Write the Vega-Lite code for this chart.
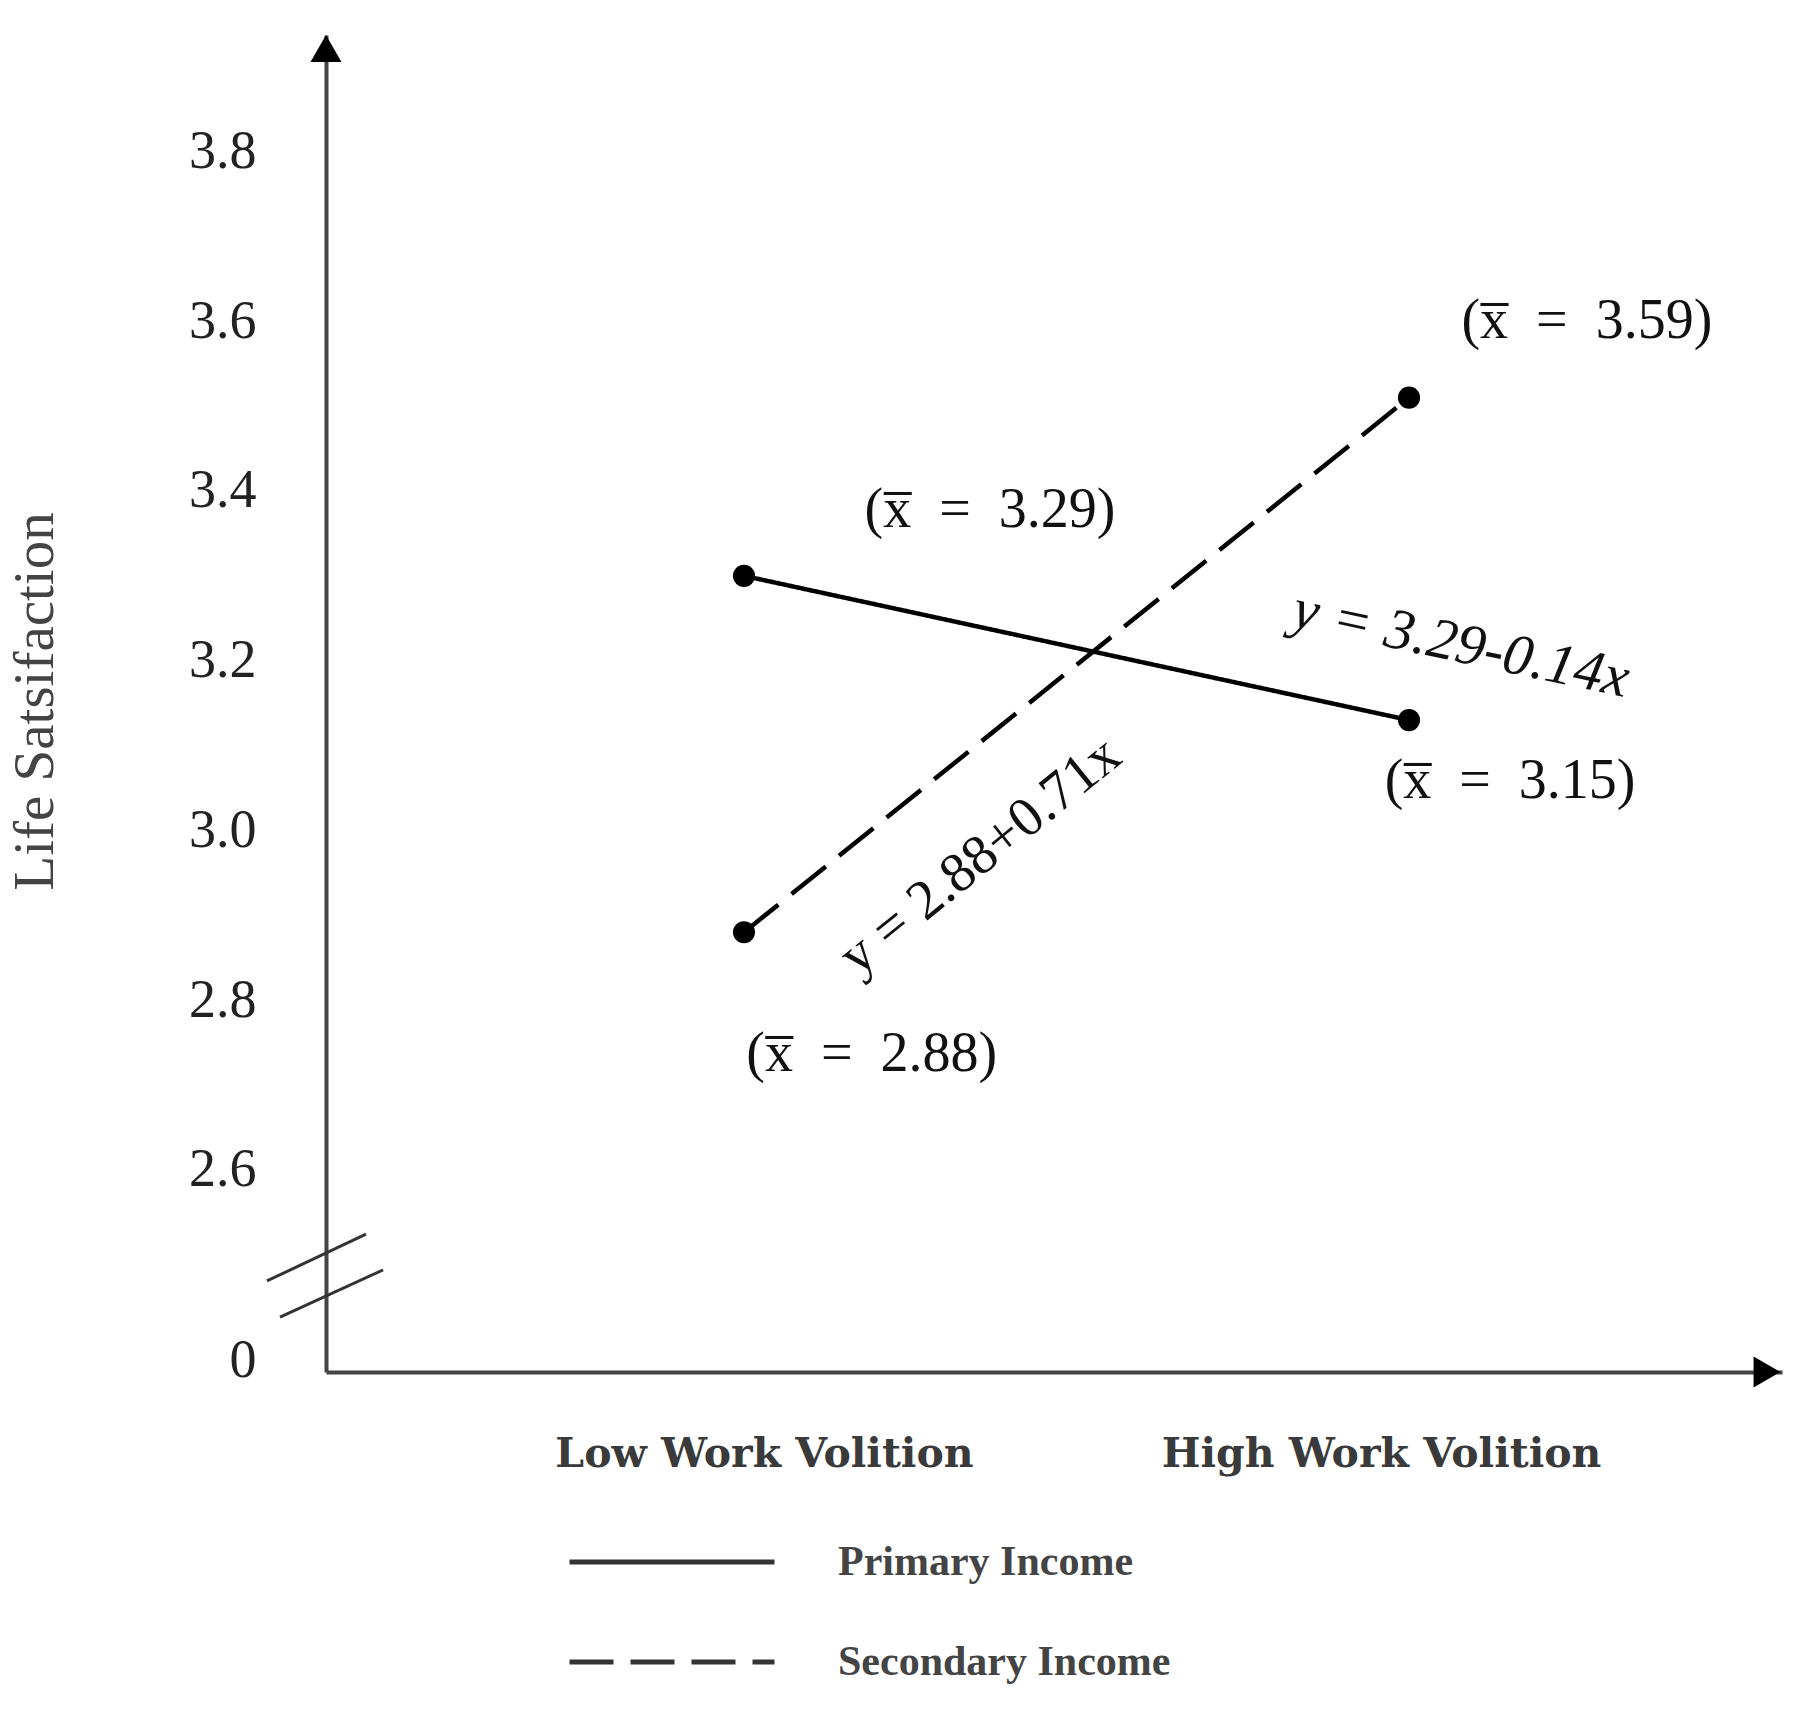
{
  "$schema": "https://vega.github.io/schema/vega-lite/v6.json",
  "autosize": {"type": "none"},
  "padding": {"left": 326, "top": 35, "right": 38, "bottom": 346},
  "width": 1456,
  "height": 1337,
  "background": "white",
  "config": {"view": {"stroke": null}},
  "datasets": {
    "lines": [
      {"group": "Primary Income", "x": -1, "y": 3.30},
      {"group": "Primary Income", "x": 1, "y": 3.13},
      {"group": "Secondary Income", "x": -1, "y": 2.88},
      {"group": "Secondary Income", "x": 1, "y": 3.51}
    ],
    "means": [
      {"x": -0.260, "y": 3.378, "label": "(x̅\u2002=\u20023.29)"},
      {"x": 1.535, "y": 3.600, "label": "(x̅\u2002=\u20023.59)"},
      {"x": 1.304, "y": 3.058, "label": "(x̅\u2002=\u20023.15)"},
      {"x": -0.616, "y": 2.7365, "label": "(x̅\u2002=\u20022.88)"}
    ],
    "breaks": [
      {"x": -2.4346, "y": 2.4690, "x2": -2.1368, "y2": 2.5243},
      {"x": -2.3955, "y": 2.4265, "x2": -2.0857, "y2": 2.4819}
    ],
    "arrows": [
      {"axis": "y", "x": -2.2571, "y": 3.9215},
      {"axis": "x", "x": 2.0767, "y": 2.3617}
    ]
  },
  "encoding": {
    "x": {
      "field": "x",
      "type": "quantitative",
      "scale": {"domain": [-2.2571, 2.1218], "nice": false, "zero": false},
      "axis": {
        "title": null,
        "values": [-0.94, 0.916],
        "labelExpr": "datum.value < 0 ? 'Low Work Volition' : 'High Work Volition'",
        "ticks": false,
        "tickSize": 0,
        "grid": false,
        "labelFont": "DejaVu Serif",
        "labelFontWeight": "bold",
        "labelFontSize": 41,
        "labelColor": "#3a3a3a",
        "labelPadding": 62,
        "labelLimit": 0,
        "labelFlush": false,
        "labelOverlap": false,
        "domainColor": "#444",
        "domainWidth": 4
      }
    },
    "y": {
      "field": "y",
      "type": "quantitative",
      "scale": {"domain": [2.3617, 3.9374], "nice": false, "zero": false},
      "axis": {
        "title": "Life Satsifaction",
        "values": [2.3747, 2.6, 2.8, 3.0, 3.2, 3.4, 3.6, 3.8],
        "labelExpr": "datum.value < 2.5 ? '0' : format(datum.value, '.1f')",
        "ticks": false,
        "tickSize": 0,
        "grid": false,
        "labelFont": "Liberation Serif",
        "labelFontSize": 54,
        "labelColor": "#222",
        "labelPadding": 70,
        "labelFlush": false,
        "labelOverlap": false,
        "domainColor": "#444",
        "domainWidth": 4,
        "titleFont": "Liberation Serif",
        "titleFontSize": 57,
        "titleFontWeight": "normal",
        "titleColor": "#444",
        "titleX": -262,
        "titleY": 666
      }
    }
  },
  "layer": [
    {
      "data": {"name": "breaks"},
      "mark": {"type": "rule", "color": "#333", "strokeWidth": 3},
      "encoding": {
        "x2": {"field": "x2"},
        "y2": {"field": "y2"}
      }
    },
    {
      "data": {"name": "arrows"},
      "mark": {"type": "point", "filled": true, "color": "#000", "size": 960, "opacity": 1},
      "encoding": {
        "shape": {
          "field": "axis",
          "type": "nominal",
          "scale": {"domain": ["y", "x"], "range": ["triangle-up", "triangle-right"]},
          "legend": null
        }
      }
    },
    {
      "data": {"name": "lines"},
      "mark": {"type": "line", "color": "#000", "strokeWidth": 4.5},
      "encoding": {
        "strokeDash": {
          "field": "group",
          "type": "nominal",
          "scale": {"domain": ["Primary Income", "Secondary Income"], "range": [[1, 0], [44, 17]]},
          "legend": {
            "title": null,
            "orient": "none",
            "legendX": 323,
            "legendY": 1504,
            "padding": 0,
            "symbolType": "M-5,0H5",
            "symbolSize": 1681,
            "symbolStrokeWidth": 5,
            "symbolStrokeColor": "#333",
            "labelFont": "Liberation Serif",
            "labelFontWeight": "bold",
            "labelFontSize": 42,
            "labelColor": "#444",
            "labelLimit": 0,
            "labelOffset": 143,
            "rowPadding": 56,
            "encode": {
              "symbols": {
                "update": {
                  "stroke": {"value": "#333"}
                }
              }
            }
          }
        }
      }
    },
    {
      "data": {"name": "lines"},
      "mark": {"type": "circle", "color": "#000", "size": 490, "opacity": 1}
    },
    {
      "data": {"name": "means"},
      "mark": {"type": "text", "font": "Liberation Serif", "fontSize": 56, "color": "#111", "align": "center", "baseline": "middle"},
      "encoding": {"text": {"field": "label"}}
    },
    {
      "data": {"values": [{"x": 1.156, "y": 3.2185, "label": "y = 3.29-0.14x"}]},
      "mark": {"type": "text", "font": "Liberation Serif", "fontStyle": "italic", "fontSize": 58, "color": "#111", "align": "center", "baseline": "middle", "angle": 12},
      "encoding": {"text": {"field": "label"}}
    },
    {
      "data": {"values": [{"x": -0.290, "y": 2.970, "label": "y = 2.88+0.71x"}]},
      "mark": {"type": "text", "font": "Liberation Serif", "fontSize": 56, "color": "#111", "align": "center", "baseline": "middle", "angle": -39},
      "encoding": {"text": {"field": "label"}}
    }
  ]
}
